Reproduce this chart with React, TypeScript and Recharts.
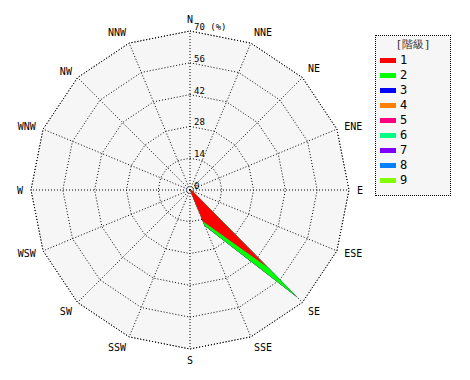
import { RadarChart, Radar, PolarGrid, PolarAngleAxis, PolarRadiusAxis } from 'recharts'

const directions = ['N', 'NNE', 'NE', 'ENE', 'E', 'ESE', 'SE', 'SSE', 'S', 'SSW', 'SW', 'WSW', 'W', 'WNW', 'NW', 'NNW']
const radiusTicks = [0, 14, 28, 42, 56, 70]
const classNames = ['1', '2', '3', '4', '5', '6', '7', '8', '9']
const classColors = ['#ff0000', '#00ff00', '#0000ff', '#ff8000', '#ff0080', '#00ff80', '#8000ff', '#0080ff', '#80ff00']

// frequency (%) per direction for each class
const class1 = [0, 0, 0, 0, 0, 1, 48, 15, 0, 0, 0, 0, 0, 0, 0, 0]
const class2 = [0, 0, 0, 0, 0, 0, 19, 2, 0, 0, 0, 0, 0, 0, 0, 0]
const class3 = [0, 0, 0, 0, 0, 0, 0, 0, 0, 0, 0, 0, 0, 0, 0, 0]
const class4 = [0, 0, 0, 0, 0, 0, 0, 0, 0, 0, 0, 0, 0, 0, 0, 0]
const class5 = [0, 0, 0, 0, 0, 0, 0, 0, 0, 0, 0, 0, 0, 0, 0, 0]
const class6 = [0, 0, 0, 0, 0, 0, 0, 0, 0, 0, 0, 0, 0, 0, 0, 0]
const class7 = [0, 0, 0, 0, 0, 0, 0, 0, 0, 0, 0, 0, 0, 0, 0, 0]
const class8 = [0, 0, 0, 0, 0, 0, 0, 0, 0, 0, 0, 0, 0, 0, 0, 0]
const class9 = [0, 0, 0, 0, 0, 0, 0, 0, 0, 0, 0, 0, 0, 0, 0, 0]

const classes = [class1, class2, class3, class4, class5, class6, class7, class8, class9]

// stacked: c1 = class1, c2 = class1 + class2, ...
const data = directions.map((dir, i) => {
  const row: Record<string, number | string> = { dir }
  let sum = 0
  classes.forEach((c, k) => {
    sum += c[i]
    row['c' + (k + 1)] = sum
  })
  return row
})

const font = 'DejaVu Sans Mono, monospace'

const RadiusTick = (props: any) => {
  const { x, y, payload } = props
  const label = payload.value === 70 ? '70 (%)' : String(payload.value)
  return (
    <text x={x + 4} y={y - 1} fontSize={9} fontFamily={font} fill="#000">
      {label}
    </text>
  )
}

const LegendBox = () => (
  <div
    style={{
      position: 'absolute',
      left: 375,
      top: 35,
      width: 76,
      height: 161,
      border: '1px dotted #000',
      background: '#f6f6f6',
      fontFamily: font,
      fontSize: 12,
      color: '#000',
      boxSizing: 'border-box',
    }}
  >
    <div style={{ textAlign: 'center', fontSize: 11, marginTop: 1, color: '#333' }}>[階級]</div>
    {classNames.map((n, i) => (
      <div key={n} style={{ position: 'absolute', left: 4, top: 17 + i * 15, display: 'flex', alignItems: 'center' }}>
        <span style={{ display: 'inline-block', width: 16, height: 5, background: classColors[i], marginRight: 4 }} />
        <span>{n}</span>
      </div>
    ))}
  </div>
)

export default function App() {
  return (
    <div style={{ position: 'relative', width: 470, height: 380, margin: -8, background: '#fff' }}>
      <RadarChart width={470} height={380} data={data} cx={190} cy={190} outerRadius={159} margin={{ top: 0, right: 0, bottom: 0, left: 0 }}>
        <PolarGrid gridType="polygon" stroke="#000" strokeDasharray="1 2" fill="#f6f6f6" />
        {classNames
          .map((n, i) => i)
          .reverse()
          .map((i) => (
            <Radar
              key={i}
              name={classNames[i]}
              dataKey={'c' + (i + 1)}
              fill={classColors[i]}
              fillOpacity={1}
              stroke="none"
              dot={false}
              isAnimationActive={false}
            />
          ))}
        <PolarAngleAxis
          dataKey="dir"
          tickLine={false}
          axisLine={false}
          tick={{ fontSize: 10, fontFamily: font, fill: '#000' }}
        />
        <PolarRadiusAxis
          angle={90}
          domain={[0, 70]}
          ticks={radiusTicks}
          axisLine={false}
          tickLine={false}
          tick={RadiusTick}
        />
      </RadarChart>
      <LegendBox />
    </div>
  )
}
